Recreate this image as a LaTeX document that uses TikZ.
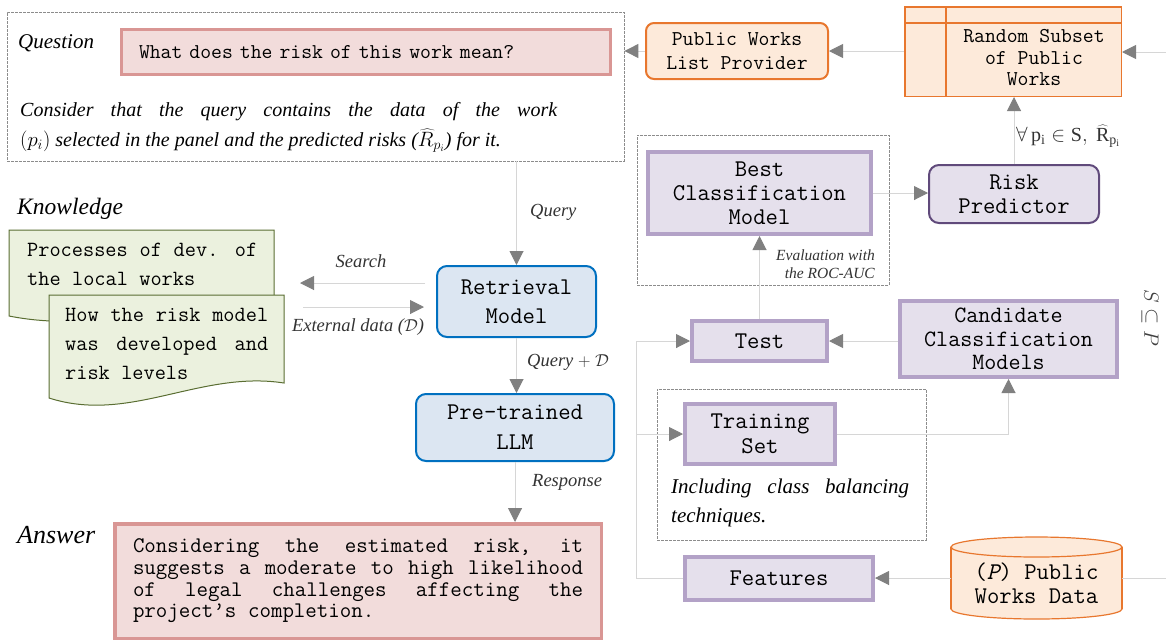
\documentclass[tikz,border=0pt]{standalone}
\usepackage{fontspec}
\setmainfont{Liberation Serif}
\usetikzlibrary{arrows.meta,calc}

\definecolor{pinkfill}{HTML}{F2DCDB}
\definecolor{pinkdraw}{HTML}{D99694}
\definecolor{orgfill}{HTML}{FDEADA}
\definecolor{orgdraw}{HTML}{E8772E}
\definecolor{purfill}{HTML}{E5E0EC}
\definecolor{purdraw}{HTML}{B3A2C7}
\definecolor{rpdraw}{HTML}{604A7B}
\definecolor{bluefill}{HTML}{DCE6F2}
\definecolor{bluedraw}{HTML}{0070C0}
\definecolor{grnfill}{HTML}{EBF1DE}
\definecolor{grndraw}{HTML}{5A6E32}
\definecolor{linegray}{HTML}{D6D6D6}
\definecolor{tipgray}{HTML}{808080}
\definecolor{framegray}{HTML}{8C8C8C}

\newcommand\fsz[2]{\fontsize{#1}{#2}\selectfont}
\newcommand\monof{\ttfamily}
\newcommand\monojust{\spaceskip=0.525em plus 2em minus 0.1em\relax}

\begin{document}
\begin{tikzpicture}[x=1pt,y=-1pt,
  arr/.style={draw=linegray, line width=1pt, -{Triangle[length=14pt,width=14pt,color=tipgray]}},
  plain/.style={draw=linegray, line width=1pt},
  frame/.style={draw=framegray, line width=0.8pt, dash pattern=on 3pt off 1pt, inner sep=0pt},
  box/.style={inner sep=0pt, align=center, text=black, font=\monof\fsz{24}{24}},
  pinkbox/.style={box, fill=pinkfill, draw=pinkdraw, line width=3.5pt},
  orgbox/.style={box, fill=orgfill, draw=orgdraw, line width=2pt, font=\monof\fsz{21.1}{24}},
  purbox/.style={box, fill=purfill, draw=purdraw, line width=4pt},
  rpbox/.style={box, fill=purfill, draw=rpdraw, line width=2pt, rounded corners=10pt},
  bluebox/.style={box, fill=bluefill, draw=bluedraw, line width=2pt, rounded corners=10pt},
  lab/.style={inner sep=0pt, text=black!80, font=\itshape\fsz{18.5}{22}},
  head/.style={inner sep=0pt, text=black, anchor=base west},
  doc/.style={fill=grnfill, draw=grndraw, line width=1pt},
  docText/.style={inner sep=0pt, anchor=base west, align=justify, font=\monof\fsz{21.7}{29}\monojust}
]
\useasboundingbox (0,0) rectangle (1166,641);

% ---------- question panel ----------
\node[frame, minimum width=617pt, minimum height=149pt] (qouter) at (315.5,86.5) {};
\node[head, font=\itshape\fsz{21}{24}] (qlab) at (18,48) {Question};
\node[pinkbox, line width=3pt, minimum width=489pt, minimum height=45pt,
      text width=454pt, align=left, font=\monof\fsz{21.1}{22}] (qbox) at (366,52)
      {What does the risk of this work mean?};
\node[head, text width=537pt, align=justify, font=\itshape\fsz{20}{30}] (qnote) at (20,116)
  {Consider that the query contains the data of the work\linebreak
   $(p_i)$ selected in the panel and the predicted risks ($\widehat{R}_{p_i}$) for it.};

% ---------- public works supply chain ----------
\node[orgbox, rounded corners=8pt, minimum width=182pt, minimum height=56pt] (pwl) at (737,51)
  {Public Works\\List Provider};
\node[inner sep=0pt, fill=orgfill, draw=orgdraw, line width=1.5pt,
      minimum width=216.5pt, minimum height=89.5pt] (rsub) at (1013,51.5) {};
\draw[orgdraw, line width=1.2pt] (rsub.west |- 0,23) -- (rsub.east |- 0,23);
\draw[orgdraw, line width=1.2pt] (rsub.north -| 946,0) -- (rsub.south -| 946,0);
\node[box, font=\monof\fsz{21.1}{21.5}] (rsubtxt) at (1034,58) {Random Subset\\of Public\\Works};
\coordinate (inR) at (1166,52);

% ---------- model selection ----------
\node[frame, minimum width=252pt, minimum height=150pt] (bestframe) at (763,210) {};
\node[purbox, minimum width=223pt, minimum height=82pt] (best) at (759.5,193)
  {Best\\Classification\\Model};
\node[rpbox, minimum width=170pt, minimum height=58pt] (rp) at (1014,194) {Risk\\Predictor};
\node[inner sep=0pt, anchor=west, text=black!80, font=\fsz{20}{24}] (forall) at (1016,136)
  {$\forall\,\mathrm{p_i}\in\mathrm{S},\ \widehat{\mathrm{R}}_{\mathrm{p_i}}$};
\node[inner sep=0pt, anchor=east, align=right, text=black!80, font=\itshape\fsz{15.5}{18}] (evallab)
  at (875,264) {Evaluation with\\the ROC-AUC};
\node[purbox, minimum width=135pt, minimum height=40pt] (test) at (759.5,341) {Test};
\node[purbox, font=\monof\fsz{23.4}{23.5}, minimum width=217pt, minimum height=76pt] (cand)
  at (1008.5,339) {Candidate\\Classification\\Models};
\node[inner sep=0pt, rotate=-90, text=black!75, font=\fsz{22}{24}] (subset) at (1150,318)
  {$S\subseteq P$};

\node[frame, minimum width=269pt, minimum height=151pt] (trainframe) at (791.5,464.5) {};
\node[purbox, font=\monof\fsz{24}{25}, minimum width=150pt, minimum height=60pt] (train)
  at (760,434) {Training\\Set};
\node[head, text width=238pt, align=justify, font=\itshape\fsz{21}{29.5}] (trainnote)
  at (671,493) {Including class balancing\linebreak techniques.};
\node[purbox, minimum width=188pt, minimum height=43pt] (feat) at (779,578.5) {Features};

% public works data store
\fill[orgfill, draw=orgdraw, line width=1.2pt] (1036.5,609) ellipse [x radius=85.5pt, y radius=10pt];
\fill[orgfill] (951,547) rectangle (1122,609);
\draw[orgdraw, line width=1.2pt] (951,547) -- (951,609) (1122,547) -- (1122,609);
\fill[orgfill, draw=orgdraw, line width=1.2pt] (1036.5,547) ellipse [x radius=85.5pt, y radius=10pt];
\node[box, minimum width=171pt, minimum height=82pt] (cyl) at (1036.5,578) {};
\node[box] (cyltxt) at (1036.5,583) {({\itshape P}) Public\\Works Data};
\coordinate (inR2) at (1166,578);
\coordinate (jn) at (636,0);

% ---------- retrieval-augmented generation ----------
\node[bluebox, font=\monof\fsz{24}{29}, minimum width=159pt, minimum height=71pt] (retr)
  at (516.5,301.5) {Retrieval\\Model};
\node[bluebox, font=\monof\fsz{24}{30}, minimum width=198pt, minimum height=67pt] (llm)
  at (515,427.5) {Pre-trained\\LLM};

% knowledge documents
\node[head, font=\itshape\fsz{23.5}{26}] (klab) at (17,214) {Knowledge};
\draw[doc] (9,230) -- (274,230) -- (274,302) .. controls (190,292) and (110,336) .. (9,316) -- cycle;
\node[docText, text width=230pt] (kd1) at (27,256) {Processes of dev. of\linebreak the local works};
\draw[doc] (49,295) -- (284,295) -- (284,383) .. controls (200,370) and (130,424) .. (49,398) -- cycle;
\node[docText, text width=203pt] (kd2) at (65,321)
  {How the risk model\linebreak was developed and\linebreak risk levels};
\coordinate (srchA) at (425,283);
\coordinate (srchB) at (300,283);
\coordinate (extA) at (303,307);
\coordinate (extB) at (424,307);

% answer
\node[head, font=\itshape\fsz{26}{28}] (alab) at (17,543) {Answer};
\node[pinkbox, minimum width=486.5pt, minimum height=114.5pt, text width=450pt, align=justify,
      font=\monof\fsz{22.3}{21.7}\monojust] (ans) at (358,581)
  {Considering the estimated risk, it\linebreak
   suggests a moderate to high likelihood\linebreak
   of legal challenges affecting the\linebreak
   project’s completion.};

% ---------- connectors ----------
\draw[arr] (inR) -- (inR -| rsub.east);
\draw[arr] (rsub.west |- pwl.east) -- (pwl.east);
\draw[arr] (pwl.west) -- (pwl.west -| qouter.east);
\draw[arr] (rp.north) -- (rp.north |- rsub.south);
\draw[arr] (best.east) -- (best.east -| rp.west);
\draw[arr] (test.north) -- (test.north |- best.south);
\draw[arr] (cand.west |- test.east) -- (test.east);
\draw[arr] (train.east) -| (cand.south);
\draw[arr] (cyl.west) -- (cyl.west -| feat.east);
\draw[plain] (inR2) -- (cyl.east);
\draw[plain] (feat.west) -- (jn |- feat.west) -- (jn |- test.west);
\draw[arr] (jn |- test.west) -- (test.west);
\draw[arr] (jn |- train.west) -- (train.west);

\draw[arr] (qouter.south -| retr.north) -- (retr.north);
\node[lab, anchor=west] (qrylab) at (530,212) {Query};
\draw[arr] (retr.south) -- (retr.south |- llm.north);
\node[lab, anchor=west] (qdlab) at (527,362) {Query $+\ \mathcal{D}$};
\draw[arr] (llm.south) -- (llm.south |- ans.north);
\node[lab, anchor=west] (resplab) at (532,482) {Response};
\draw[arr] (srchA) -- (srchB);
\node[lab] (srchlab) at (361,261) {Search};
\draw[arr] (extA) -- (extB);
\node[lab] (extlab) at (358,327) {External data ($\mathcal{D}$)};
\end{tikzpicture}
\end{document}
